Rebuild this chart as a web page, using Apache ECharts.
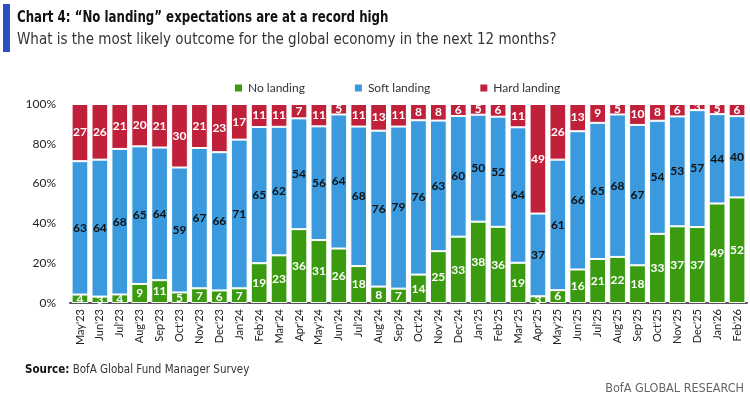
<!DOCTYPE html>
<html>
<head>
<meta charset="utf-8">
<script src="https://cdn.jsdelivr.net/npm/echarts@6/dist/echarts.min.js"></script>
<style>
html,body{margin:0;padding:0;background:#fff;}
#chart{width:750px;height:403px;}
</style>
</head>
<body>
<div id="chart"></div>
<script>
var categories = ["May'23","Jun'23","Jul'23","Aug'23","Sep'23","Oct'23","Nov'23","Dec'23",
"Jan'24","Feb'24","Mar'24","Apr'24","May'24","Jun'24","Jul'24","Aug'24","Sep'24","Oct'24","Nov'24","Dec'24",
"Jan'25","Feb'25","Mar'25","Apr'25","May'25","Jun'25","Jul'25","Aug'25","Sep'25","Oct'25","Nov'25","Dec'25",
"Jan'26","Feb'26"];
var noLanding = [4,3,4,9,11,5,7,6,7,19,23,36,31,26,18,8,7,14,25,33,38,36,19,3,6,16,21,22,18,33,37,37,49,52];
var softLanding = [63,64,68,65,64,59,67,66,71,65,62,54,56,64,68,76,79,76,63,60,50,52,64,37,61,66,65,68,67,54,53,57,44,40];
var hardLanding = [27,26,21,20,21,30,21,23,17,11,11,7,11,5,11,13,11,8,8,6,5,6,11,49,26,13,9,5,10,8,6,3,5,6];
var yTicks = [0,20,40,60,80,100];

var totals = categories.map(function(c,i){return noLanding[i]+softLanding[i]+hardLanding[i];});
function norm(arr){
  return arr.map(function(v,i){return {value: v/totals[i]*100, raw: v};});
}
var FONT = 'Lato';
var NARROW = 'DejaVu Sans Condensed, sans-serif';
function mk(name, arr, color, labelColor){
  return {
    name: name, type: 'bar', stack: 'a', data: norm(arr),
    barCategoryGap: '16%',
    itemStyle: {color: color, borderColor: '#ffffff', borderWidth: 1},
    label: {show: true, position: 'inside', color: labelColor, fontFamily: FONT, fontWeight: 'bold', fontSize: 12,
      formatter: function(p){return p.data.raw;}},
    emphasis: {disabled: true}
  };
}
var chart = echarts.init(document.getElementById('chart'));
chart.setOption({
  animation: false,
  backgroundColor: '#ffffff',
  graphic: [
    {type: 'rect', shape: {x: 3, y: 4, width: 7, height: 48}, style: {fill: '#2b50c2'}},
    {type: 'text', x: 17, y: 10, scaleX: 0.82, style: {text: 'Chart 4: \u201cNo landing\u201d expectations are at a record high', fontFamily: NARROW, fontWeight: 'bold', fontSize: 16, fill: '#111'}},
    {type: 'text', x: 17, y: 33, style: {text: 'What is the most likely outcome for the global economy in the next 12 months?', fontFamily: NARROW, fontSize: 15, fill: '#333'}},
    {type: 'text', x: 25, y: 364, style: {rich: {b: {fontWeight: 'bold', fontFamily: NARROW, fontSize: 11.5, fill: '#111'}, n: {fontFamily: NARROW, fontSize: 11.5, fill: '#333'}}, text: '{b|Source:} {n|BofA Global Fund Manager Survey}'}},
    {type: 'text', right: 6, top: 382, style: {text: 'BofA GLOBAL RESEARCH', fontFamily: NARROW, fontSize: 12.5, fill: '#666'}}
  ],
  legend: {
    left: 228, top: 77, itemWidth: 9, itemHeight: 9, itemGap: 48, icon: 'rect',
    textStyle: {fontFamily: FONT, fontSize: 12, color: '#333'},
    data: ['No landing','Soft landing','Hard landing']
  },
  grid: {left: 70, right: 3, top: 104, bottom: 100, containLabel: false},
  xAxis: {
    type: 'category', data: categories,
    axisLine: {show: true, lineStyle: {color: '#555', width: 2}},
    axisTick: {show: false},
    axisLabel: {rotate: 90, interval: 0, fontFamily: FONT, fontSize: 11, color: '#222', margin: 6}
  },
  yAxis: {
    type: 'value', min: 0, max: 100, interval: 20,
    axisLine: {show: false}, axisTick: {show: false}, splitLine: {show: false},
    axisLabel: {formatter: function(v){return yTicks.indexOf(v) >= 0 ? v + '%' : '';}, fontFamily: FONT, fontSize: 12, color: '#222', margin: 14}
  },
  series: [
    mk('No landing', noLanding, '#3a9a10', '#ffffff'),
    mk('Soft landing', softLanding, '#3b9ade', '#111111'),
    mk('Hard landing', hardLanding, '#c0203a', '#ffffff')
  ]
});
</script>
</body>
</html>
